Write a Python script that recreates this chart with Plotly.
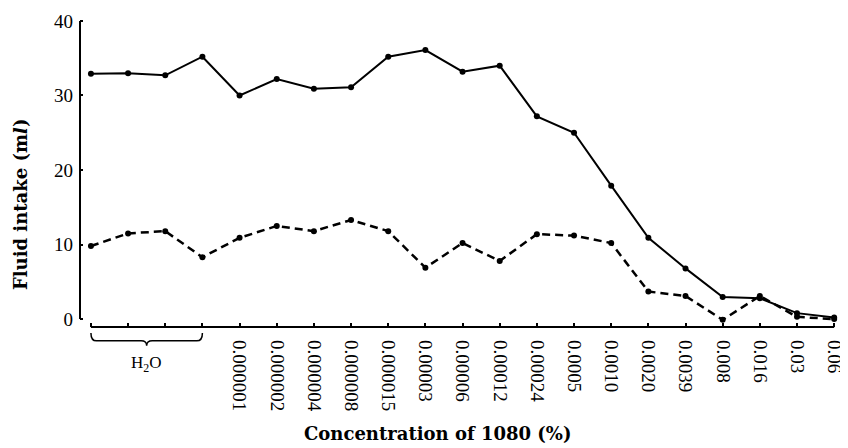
import plotly.graph_objects as go

# ---- data ----
tick_labels = ["", "", "", "",
               "0.000001", "0.000002", "0.000004", "0.000008", "0.000015",
               "0.00003", "0.00006", "0.00012", "0.00024", "0.0005", "0.0010",
               "0.0020", "0.0039", "0.008", "0.016", "0.03", "0.06"]
positions = list(range(len(tick_labels)))
group_label = "H<sub>2</sub>O"
group_span = [0, 3]          # first and last H2O measurement

solid_values = [32.9, 33.0, 32.7, 35.2, 30.0, 32.2, 30.9, 31.1, 35.2, 36.1,
                33.2, 34.0, 27.2, 25.0, 17.9, 10.9, 6.8, 2.95, 2.8, 0.8, 0.2]
dashed_values = [9.8, 11.5, 11.8, 8.3, 10.9, 12.5, 11.8, 13.3, 11.8, 6.9,
                 10.2, 7.8, 11.4, 11.2, 10.2, 3.7, 3.1, -0.1, 3.1, 0.3, 0.0]
y_ticks = [0, 10, 20, 30, 40]

NB = "\u00a0"
TICK_FONT = dict(family="Liberation Serif", size=19, color="black")
TITLE_FONT = dict(family="DejaVu Serif", size=18, color="black", weight="bold")

fig = go.Figure()
fig.add_trace(go.Scatter(
    x=positions, y=solid_values, mode="lines+markers",
    line=dict(color="black", width=2),
    marker=dict(color="black", size=6),
    showlegend=False))
fig.add_trace(go.Scatter(
    x=positions, y=dashed_values, mode="lines+markers",
    line=dict(color="black", width=2.5, dash="8px,5px"),
    marker=dict(color="black", size=6),
    showlegend=False))

# axis lines (separate, as in the original)
fig.add_shape(type="line", xref="paper", yref="y", x0=0, x1=0, y0=0, y1=40,
              line=dict(color="black", width=2))
fig.add_shape(type="line", xref="x", yref="paper", x0=positions[0], x1=positions[-1],
              y0=0, y1=0, line=dict(color="black", width=2))

# brace under the H2O measurements
a, b = group_span
m = (a + b) / 2
yt, yh, yp = -0.019, -0.0446, -0.0605
d = 0.15
brace = (f"M {a},{yt} Q {a},{yh} {a+d},{yh} L {m-d},{yh} Q {m},{yh} {m},{yp} "
         f"Q {m},{yh} {m+d},{yh} L {b-d},{yh} Q {b},{yh} {b},{yt}")
fig.add_shape(type="path", xref="x", yref="paper", path=brace,
              line=dict(color="black", width=1.5))
fig.add_annotation(x=m, xref="x", y=-0.12, yref="paper", text=group_label,
                   showarrow=False, font=dict(family="Liberation Serif", size=17, color="black"),
                   xanchor="center", yanchor="middle")

# axis titles
fig.add_annotation(x=(20 - 80) / 765, xref="paper", y=0.395, yref="paper",
                   text=f"Fluid{NB}intake{NB}(m<i>l</i>)", textangle=-90, showarrow=False,
                   font=TITLE_FONT, xanchor="center", yanchor="middle")
fig.add_annotation(x=(440 - 80) / 765, xref="paper", y=-0.343, yref="paper",
                   text=f"Concentration{NB}of{NB}1080{NB}(%)", showarrow=False,
                   font=TITLE_FONT, xanchor="center", yanchor="middle")

fig.update_xaxes(range=[-0.294, 20.13], tickvals=positions, ticktext=tick_labels,
                 tickangle=90, ticks="inside", ticklen=4, tickwidth=1.5, tickcolor="black",
                 showline=False, showgrid=False, zeroline=False,
                 tickfont=TICK_FONT, ticklabelstandoff=12, ticklabeloverflow="allow")
fig.update_yaxes(range=[-1.06, 40.53], tickvals=y_ticks,
                 ticks="inside", ticklen=3, tickwidth=1.5, tickcolor="black",
                 showline=False, showgrid=False, zeroline=False,
                 tickfont=TICK_FONT, ticklabelstandoff=6, ticklabeloverflow="allow")

# the page adds an 8px body margin, so the figure is 8px smaller than the window
fig.update_layout(width=840, height=440, margin=dict(l=72, r=3, t=5, b=121),
                  plot_bgcolor="white", paper_bgcolor="white")

fig.write_html("out.html")
